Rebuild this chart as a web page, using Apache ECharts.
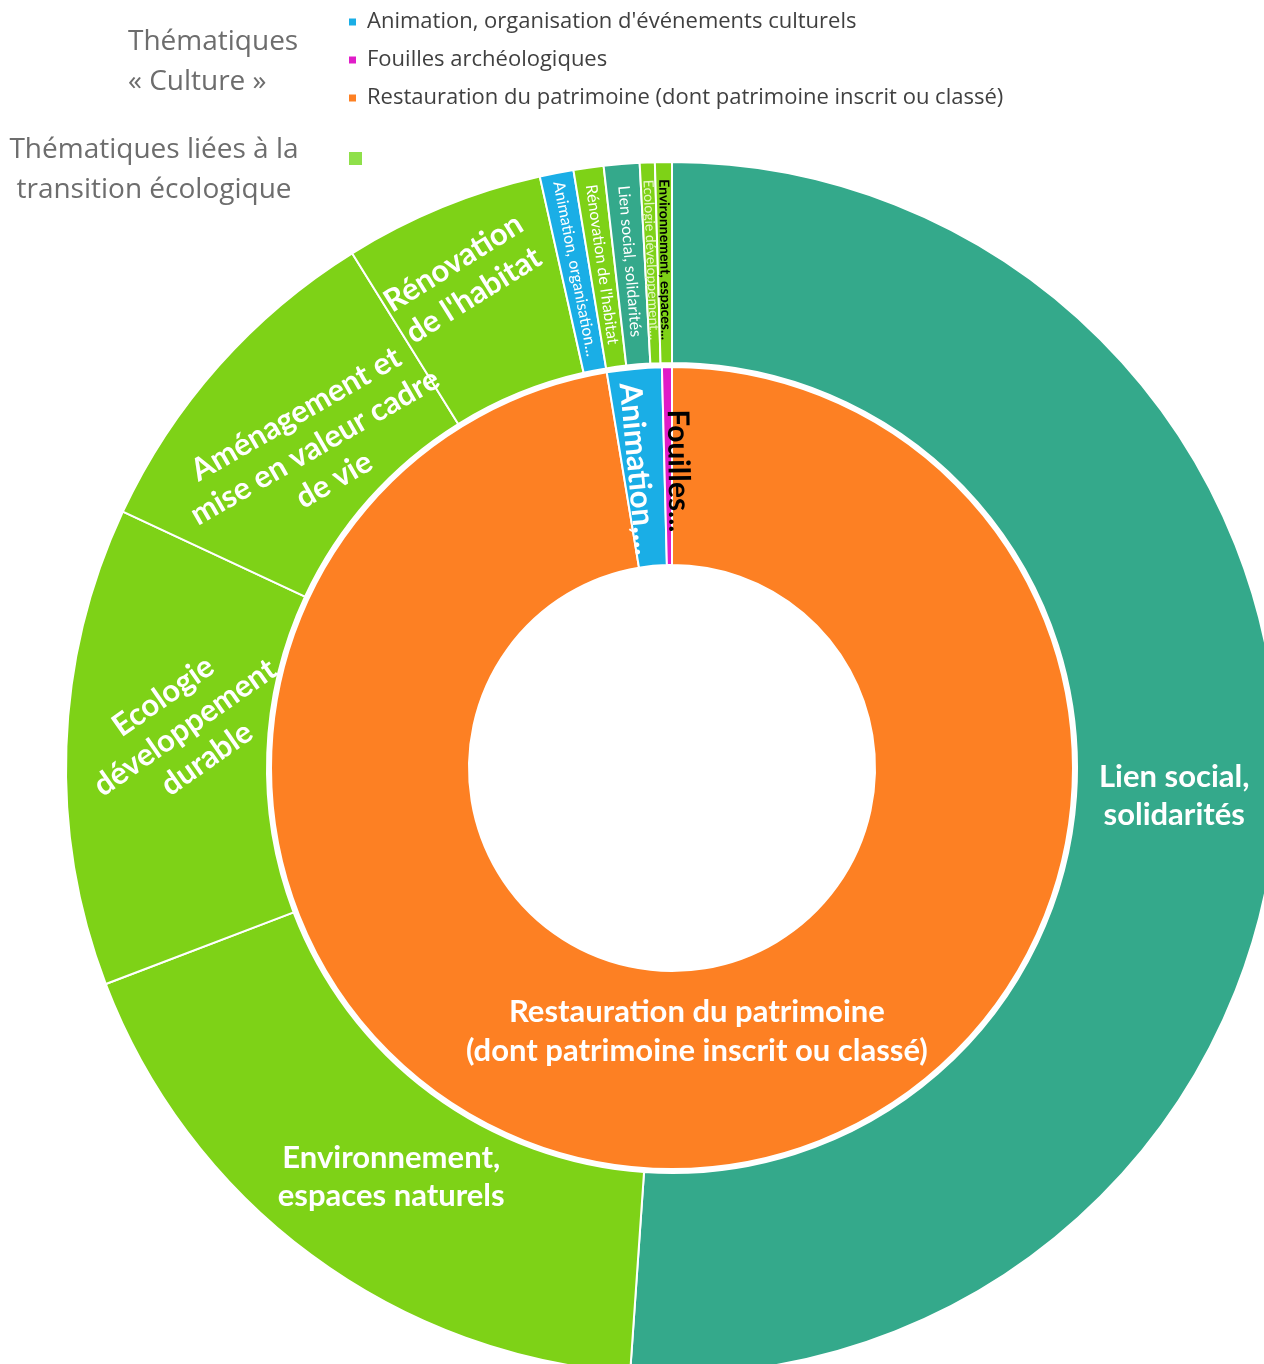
<!DOCTYPE html>
<html><head><meta charset="utf-8">
<script src="https://cdn.jsdelivr.net/npm/echarts@6/dist/echarts.min.js"></script>
<style>html,body{margin:0;padding:0;background:#fff}#c{width:1264px;height:1364px}</style>
</head><body><div id="c"></div>
<script>
// ---- data ----
const innerNames = ["Restauration du patrimoine (dont patrimoine inscrit ou classé)", "Animation, organisation d'événements culturels", "Fouilles archéologiques"];
const innerValues = [97.4, 2.2, 0.4];
const innerLabels = ["Restauration du patrimoine\n(dont patrimoine inscrit ou classé)", "Animation,...", "Fouilles..."];

const outerNames = ["Lien social, solidarités", "Environnement, espaces naturels", "Ecologie développement durable", "Aménagement et mise en valeur cadre de vie", "Rénovation de l'habitat", "Animation, organisation d'événements culturels", "Rénovation de l'habitat", "Lien social, solidarités", "Ecologie développement durable", "Environnement, espaces naturels"];
const outerValues = [51.1, 18.1, 12.75, 9.2, 5.35, 0.9, 0.8, 0.95, 0.4, 0.45];
const outerLabels = ["Lien social,\nsolidarités", "Environnement,\nespaces naturels", "Ecologie\ndéveloppement\ndurable", "Aménagement et\nmise en valeur cadre\nde vie", "Rénovation\nde l'habitat", "Animation, organisation...", "Rénovation de l'habitat", "Lien social, solidarités", "Ecologie développement...", "Environnement, espaces..."];

const legendNames = ["Animation, organisation d'événements culturels", "Fouilles archéologiques", "Restauration du patrimoine (dont patrimoine inscrit ou classé)"];

// ---- styles ----
const TEAL = '#34a98b', GREEN = '#7ed217', ORANGE = '#fd8023', BLUE = '#1aaee6', MAGENTA = '#e01cc8';
const innerColors = [ORANGE, BLUE, MAGENTA];
const outerColors = [TEAL, GREEN, GREEN, GREEN, GREEN, BLUE, GREEN, TEAL, GREEN, GREEN];
const FONT = 'Lato';
const innerLabelStyle = [
  {rotate: 0, fontSize: 31, lineHeight: 39, color: '#fff'},
  {rotate: 'radial', fontSize: 31, lineHeight: 32, color: '#fff'},
  {rotate: 'radial', fontSize: 30, lineHeight: 30, color: '#000'}
];
// label shifts (in the label's own rotated frame)
const innerShift = [[0, -40], [4, 6], [8, -10]];
const outerLabelStyle = [
  {rotate: 0, fontSize: 31, lineHeight: 38, color: '#fff'},
  {rotate: 0, fontSize: 31, lineHeight: 38, color: '#fff'},
  {rotate: 35, fontSize: 31, lineHeight: 38, color: '#fff'},
  {rotate: 30, fontSize: 31, lineHeight: 38, color: '#fff'},
  {rotate: 32, fontSize: 31, lineHeight: 38, color: '#fff'},
  {rotate: 'radial', fontSize: 16, lineHeight: 18, color: '#fff', fontWeight: 'normal'},
  {rotate: 'radial', fontSize: 16, lineHeight: 18, color: '#fff', fontWeight: 'normal'},
  {rotate: 'radial', fontSize: 16, lineHeight: 18, color: '#fff', fontWeight: 'normal'},
  {rotate: 'radial', fontSize: 14, lineHeight: 14, color: '#e6f7c8', fontWeight: 'normal'},
  {rotate: 'radial', fontSize: 14, lineHeight: 14, color: '#000', fontWeight: 'bold'}
];
const outerShift = [[-6, 10], [22, 0], [30, -6], [12, 26], [-4, -24], [0, 0], [0, 0], [0, 0], [0, 0], [0, 0]];

function build(names, values, labels, colors, lstyles) {
  return names.map((n, i) => ({
    name: n, value: values[i],
    itemStyle: {color: colors[i]},
    label: Object.assign({formatter: labels[i], fontWeight: 'bold', fontFamily: FONT}, lstyles[i])
  }));
}
function shifter(shifts) {
  return function (p) {
    const s = shifts[p.dataIndex] || [0, 0];
    return {dx: s[0], dy: s[1], hideOverlap: false, moveOverlap: null};
  };
}

const chart = echarts.init(document.getElementById('c'), null, {renderer: 'canvas'});
chart.setOption({
  animation: false,
  backgroundColor: '#fff',
  legend: {
    data: legendNames,
    orient: 'vertical', left: 347, top: 10, padding: 0,
    icon: 'rect', itemWidth: 9, itemHeight: 9, itemGap: 14,
    selectedMode: false,
    textStyle: {fontFamily: 'Open Sans', fontSize: 22, color: '#404040', lineHeight: 24, padding: [0, 0, 0, 5]}
  },
  graphic: [
    {type: 'text', x: 128, y: 22, style: {text: 'Thématiques\n« Culture »', fontFamily: 'Open Sans', fontSize: 28, lineHeight: 40, fill: '#6d6d6d', align: 'left', verticalAlign: 'top'}},
    {type: 'text', x: 154, y: 130, style: {text: 'Thématiques liées à la\ntransition écologique', fontFamily: 'Open Sans', fontSize: 28, lineHeight: 40, fill: '#6d6d6d', align: 'center', verticalAlign: 'top'}},
    {type: 'rect', shape: {x: 349, y: 152, width: 13, height: 13}, style: {fill: '#8fe04a'}}
  ],
  series: [
    {
      type: 'pie', name: 'Culture', center: [672, 768], radius: [203, 401],
      startAngle: 90, clockwise: true, avoidLabelOverlap: false, minShowLabelAngle: 0,
      itemStyle: {borderColor: '#fff', borderWidth: 2},
      label: {show: true, position: 'inside'}, labelLine: {show: false},
      labelLayout: shifter(innerShift),
      emphasis: {disabled: true},
      data: build(innerNames, innerValues, innerLabels, innerColors, innerLabelStyle)
    },
    {
      type: 'pie', name: 'Transition', center: [672, 768], radius: [405, 606],
      startAngle: 90, clockwise: true, avoidLabelOverlap: false, minShowLabelAngle: 0,
      itemStyle: {borderColor: '#fff', borderWidth: 2},
      label: {show: true, position: 'inside'}, labelLine: {show: false},
      labelLayout: shifter(outerShift),
      emphasis: {disabled: true},
      data: build(outerNames, outerValues, outerLabels, outerColors, outerLabelStyle)
    }
  ]
});
</script></body></html>
